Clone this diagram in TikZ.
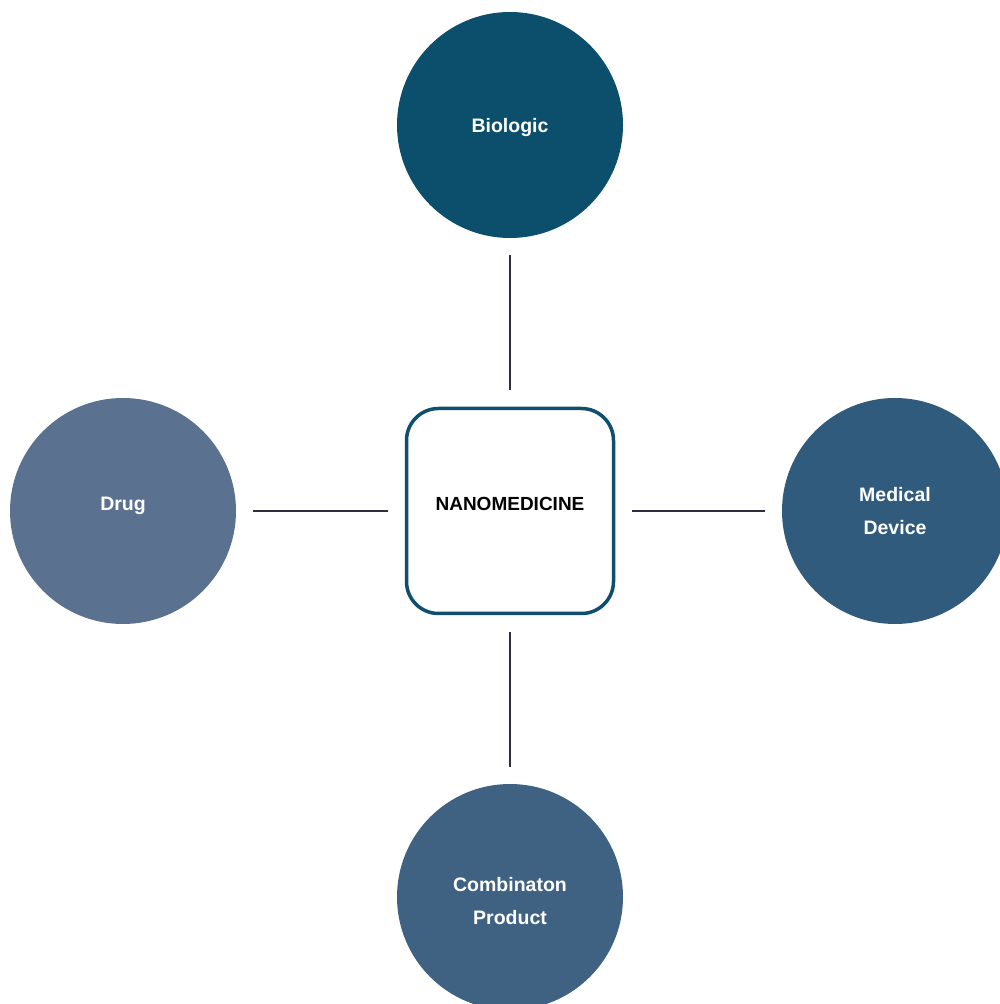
\documentclass[tikz,border=0pt]{standalone}
\usepackage{xcolor}
\usepackage{fontspec}
\setmainfont{Liberation Sans}
\usepackage{tikz}

\definecolor{biocol}{HTML}{0B4F6C}
\definecolor{drugcol}{HTML}{5A7190}
\definecolor{devcol}{HTML}{305B7C}
\definecolor{combcol}{HTML}{3F6282}
\definecolor{boxcol}{HTML}{0F4E6E}
\definecolor{linecol}{HTML}{2E2E3E}

% move a label without changing its box
\newcommand{\lift}[2]{\raisebox{#1}[\height][\depth]{#2}}

\begin{document}
\begin{tikzpicture}[x=1pt,y=1pt,
  kind/.style={circle,minimum size=226pt,inner sep=0pt,text=white,align=center,
    font=\bfseries\fontsize{19.5}{33}\selectfont},
  hub/.style={draw=boxcol,line width=3.5pt,rounded corners=32pt,fill=white,
    minimum width=207pt,minimum height=205pt,font=\bfseries\fontsize{19}{22}\selectfont},
  link/.style={draw=linecol,line width=1.3pt,shorten >=17pt,shorten <=17pt}]
\useasboundingbox (0,0) rectangle (1000,1004);
  \node[hub] (nano) at (510,493) {\lift{7pt}{NANOMEDICINE}};
  \node[kind,fill=biocol] (bio) at (510,879) {\lift{-3pt}{Biologic}};
  \node[kind,fill=drugcol] (drug) at (123,493) {\lift{5pt}{Drug}};
  \node[kind,fill=devcol] (dev) at (895,493) {Medical\\Device};
  \node[kind,fill=combcol] (comb) at (510,107) {\lift{-4pt}{Combinaton}\\\lift{-4pt}{Product}};
  \draw[link] (bio) -- (nano);
  \draw[link] (drug) -- (nano);
  \draw[link] (dev) -- (nano);
  \draw[link] (comb) -- (nano);
\end{tikzpicture}
\end{document}
